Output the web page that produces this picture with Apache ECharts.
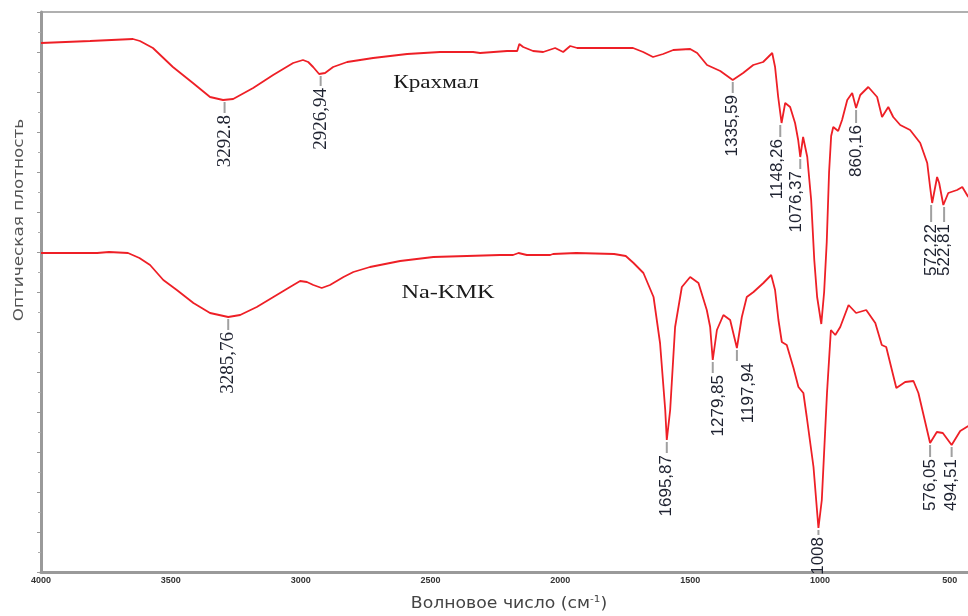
<!DOCTYPE html>
<html><head><meta charset="utf-8">
<script src="https://cdn.jsdelivr.net/npm/echarts@6/dist/echarts.min.js"></script>
<style>html,body{margin:0;padding:0;background:#fff}#c{width:968px;height:616px}</style>
</head><body><div id="c"></div>
<script>
// ---- data (wavenumber, cm-1 ; optical density in arbitrary units) ----
const xTickValues = [500, 1000, 1500, 2000, 2500, 3000, 3500, 4000];

const starchWave = [4000,3811,3646,3619,3569,3492,3415,3349,3299,3260,3183,3106,3029,2991,2971,2952,2929,2906,2875,2821,2721,2590,2463,2336,2309,2205,2166,2158,2143,2105,2066,2020,1989,1962,1935,1847,1720,1681,1643,1604,1565,1500,1473,1435,1384,1336,1296,1257,1219,1184,1173,1161,1148,1134,1115,1096,1084,1076,1065,1049,1034,1022,1011,995,984,974,965,957,949,930,915,895,876,861,845,814,780,761,737,718,691,653,614,587,576,568,549,541,525,506,472,452,429];
const starchValue = [529,531,533,531,524,505,489,475,472,473,484,497,509,512,510,505,498,499,505,510,514,518,520,520,519,521,521,528,525,521,520,524,520,526,524,524,524,520,515,518,522,523,519,507,501,492,499,507,510,519,505,475,449,469,465,449,432,415,435,415,372,312,275,248,280,330,400,436,445,441,452,472,479,464,477,485,475,455,465,455,447,442,429,409,385,369,395,389,367,379,382,385,375];

const cmcWave = [4000,3784,3738,3665,3621,3580,3529,3477,3413,3349,3279,3233,3169,3105,3041,3002,2976,2951,2919,2887,2835,2797,2733,2617,2489,2360,2232,2182,2161,2129,2039,2028,1939,1793,1748,1718,1680,1641,1616,1596,1590,1577,1558,1532,1500,1468,1436,1423,1413,1397,1372,1346,1320,1301,1282,1256,1218,1188,1173,1160,1147,1128,1102,1083,1064,1051,1025,1006,993,973,958,941,922,890,861,822,787,762,745,706,672,640,621,576,550,527,493,460,429];
const cmcValue = [319,319,320,319,314,307,292,282,269,259,255,257,265,275,285,291,290,287,284,287,295,300,305,311,315,316,317,317,319,317,317,318,319,318,316,309,299,275,229,162,132,162,245,285,295,289,262,245,212,242,257,252,224,255,275,280,289,297,282,252,230,227,204,185,179,155,105,44,72,179,242,237,245,267,259,262,249,227,225,184,190,191,179,129,140,139,127,141,146];

const starchPeakText  = ['3292.8', '2926,94', '1335,59', '1148,26', '1076,37', '860,16', '572,22', '522,81'];
const starchPeakWave  = [3293, 2923, 1336, 1153, 1076, 861, 572, 522];
const starchPeakValue = [472, 498, 492, 449, 415, 464, 369, 367];

const cmcPeakText  = ['3285,76', '1695,87', '1279,85', '1197,94', '1008', '576,05', '494,51'];
const cmcPeakWave  = [3279, 1590, 1413, 1320, 1006, 576, 493];
const cmcPeakValue = [255, 132, 212, 224, 44, 129, 127];

// ---- label layout (leader length, text shift, font) ----
const SERIF = '19px "Liberation Serif", "Times New Roman", serif';
const SANS = '17px "Liberation Sans", Arial, sans-serif';
const starchLayout = [
  {len: 11, dx: 0, font: SERIF}, {len: 10, dx: 0, font: SERIF}, {len: 11, dx: 0, font: SANS},
  {len: 12, dx: -3, font: SANS}, {len: 10, dx: -4, font: SANS}, {len: 13, dx: 0, font: SANS},
  {len: 17, dx: 0, font: SANS}, {len: 15, dx: 0, font: SANS}
];
const cmcLayout = [
  {len: 11, dx: 0, font: SERIF}, {len: 11, dx: 0, font: SANS}, {len: 11, dx: 6, font: SANS},
  {len: 11, dx: 11, font: SANS}, {len: 5, dx: 0, font: SANS}, {len: 12, dx: 0, font: SANS},
  {len: 10, dx: 0, font: SANS}
];

const RED = '#ee1f26';

function zip(a, b) { return a.map((v, i) => [v, b[i]]); }

function peakSeries(texts, waves, values, layout) {
  return {
    type: 'custom', coordinateSystem: 'cartesian2d', clip: false, silent: true, z: 5,
    data: zip(waves, values),
    encode: {x: 0, y: 1},
    renderItem: function (params, api) {
      const i = params.dataIndex;
      const p = api.coord([api.value(0), api.value(1)]);
      const L = layout[i];
      const y0 = p[1] + 2, y1 = y0 + L.len;
      return {
        type: 'group',
        children: [
          {type: 'line', shape: {x1: p[0], y1: y0, x2: p[0], y2: y1},
           style: {stroke: '#a0a0a0', lineWidth: 2}},
          {type: 'text', x: p[0] + L.dx, y: y1 + 2, rotation: Math.PI / 2,
           style: {text: texts[i], font: L.font, fill: '#1e2230', align: 'right', verticalAlign: 'middle'}}
        ]
      };
    }
  };
}

const chart = echarts.init(document.getElementById('c'), null, {renderer: 'canvas'});
chart.setOption({
  animation: false,
  backgroundColor: '#ffffff',
  grid: {left: 41, right: 0, top: 12, bottom: 44, containLabel: false},
  xAxis: {
    type: 'value', inverse: true, min: 430, max: 4000,
    axisLine: {show: true, lineStyle: {color: '#9a9a9a', width: 3}},
    axisTick: {show: false, customValues: xTickValues},
    splitLine: {show: false},
    axisLabel: {customValues: xTickValues, formatter: function (v) { return String(v); },
                color: '#333', fontSize: 9, fontWeight: 'bold',
                fontFamily: '"Liberation Sans", Arial, sans-serif', margin: 4}
  },
  yAxis: {
    type: 'value', min: 0, max: 560, interval: 40,
    axisLine: {show: true, lineStyle: {color: '#9a9a9a', width: 3}},
    axisTick: {show: true, length: 4, lineStyle: {color: '#999'}},
    minorTick: {show: true, splitNumber: 2, length: 3, lineStyle: {color: '#aaa'}},
    axisLabel: {show: false},
    splitLine: {show: false}
  },
  graphic: [
    {type: 'line', shape: {x1: 41, y1: 12, x2: 968, y2: 12}, style: {stroke: '#b0b0b0', lineWidth: 2}},
    {type: 'text', x: 436, y: 83, scaleX: 1.22,
     style: {text: 'Крахмал', font: '19px "Liberation Serif", "Times New Roman", serif', fill: '#1a1a1a', align: 'center', verticalAlign: 'middle'}},
    {type: 'text', x: 448, y: 293, scaleX: 1.28,
     style: {text: 'Na-KMK', font: '19px "Liberation Serif", "Times New Roman", serif', fill: '#1a1a1a', align: 'center', verticalAlign: 'middle'}},
    {type: 'text', x: 19, y: 220, rotation: Math.PI / 2, scaleX: 1.2,
     style: {text: 'Оптическая плотность', font: '14px "DejaVu Sans", sans-serif', fill: '#555', align: 'center', verticalAlign: 'middle'}},
    {type: 'text', x: 509, y: 604, scaleX: 1.15,
     style: {text: '{a|Волновое число (см}{s|-1}{a|)}', align: 'center', verticalAlign: 'middle',
       rich: {a: {font: '15px "DejaVu Sans", sans-serif', fill: '#444'},
              s: {font: '9px "DejaVu Sans", sans-serif', fill: '#444', verticalAlign: 'top', padding: [0, 0, 8, 0]}}}}
  ],
  series: [
    {type: 'line', name: 'Крахмал', data: zip(starchWave, starchValue), showSymbol: false,
     lineStyle: {color: RED, width: 1.8}, itemStyle: {color: RED}},
    {type: 'line', name: 'Na-KMK', data: zip(cmcWave, cmcValue), showSymbol: false,
     lineStyle: {color: RED, width: 1.8}, itemStyle: {color: RED}},
    peakSeries(starchPeakText, starchPeakWave, starchPeakValue, starchLayout),
    peakSeries(cmcPeakText, cmcPeakWave, cmcPeakValue, cmcLayout)
  ]
});
</script>
</body></html>
